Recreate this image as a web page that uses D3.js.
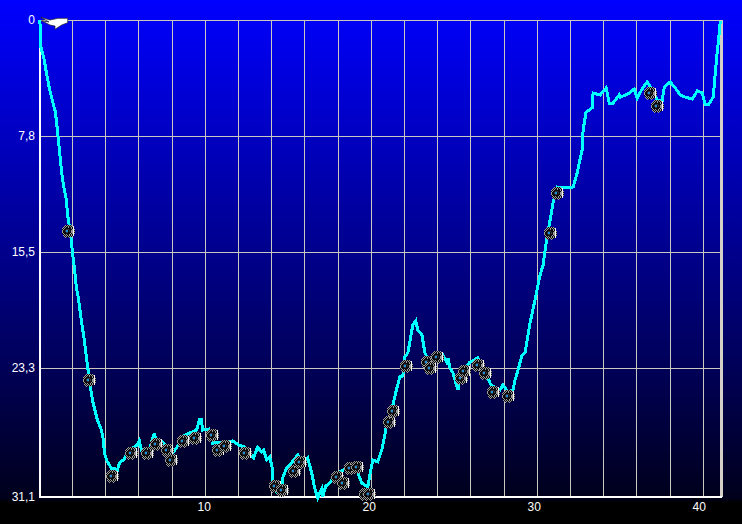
<!DOCTYPE html>
<html>
<head>
<meta charset="utf-8">
<style>
  html, body { margin: 0; padding: 0; background: #000; overflow: hidden; }
  svg { display: block; }
  text { font-family: "Liberation Sans", sans-serif; font-size: 12px; fill: #fff; }
</style>
<script src="https://cdn.jsdelivr.net/npm/d3@7"></script>
</head>
<body>
<svg id="svg" width="742" height="524"></svg>
<script>
// dive profile: time and depth
const times = [
  0.04, 0.06, 0.30, 0.42, 0.60, 0.78, 0.97, 1.09, 1.21, 1.33, 1.45, 1.63, 1.69, 1.93, 1.99, 2.11, 2.23, 2.35, 2.53, 2.71,
  2.90, 3.02, 3.20, 3.50, 3.74, 3.86, 3.92, 4.10, 4.34, 4.52, 4.71, 4.83, 5.13, 5.31, 5.61, 5.91, 6.03, 6.15, 6.64, 6.76,
  6.94, 7.00, 7.42, 8.02, 8.27, 8.57, 8.93, 9.47, 9.65, 9.77, 9.83, 10.20, 10.44, 11.46, 11.64, 12.01, 12.37, 12.67, 12.91, 13.15,
  13.39, 13.51, 13.70, 13.88, 14.06, 14.06, 14.30, 14.60, 14.66, 14.90, 15.08, 15.57, 15.87, 16.17, 16.41, 16.59, 16.77, 17.01, 17.07, 17.25,
  17.50, 17.92, 18.70, 19.19, 19.43, 19.79, 19.91, 20.09, 20.39, 20.63, 20.87, 20.93, 21.30, 21.54, 21.72, 21.90, 22.02, 22.20, 22.32, 22.50,
  22.68, 22.80, 23.05, 23.23, 23.53, 24.31, 24.55, 24.62, 24.74, 24.92, 25.22, 25.34, 25.94, 26.42, 26.85, 27.21, 27.75, 27.93, 28.23, 28.54,
  28.66, 28.84, 29.08, 29.26, 29.56, 29.86, 30.17, 30.35, 30.53, 30.77, 30.95, 31.19, 31.67, 32.16, 32.40, 32.70, 32.76, 32.94, 33.30, 33.36,
  33.79, 33.91, 34.15, 34.33, 34.57, 34.93, 34.99, 35.47, 35.84, 36.02, 36.38, 36.62, 36.86, 37.22, 37.53, 37.65, 38.01, 38.31, 38.61, 38.91,
  39.33, 39.64, 39.94, 40.12, 40.30, 40.60, 40.72, 40.84, 40.96, 41.02
]
const depths = [
  0, 1.67, 2.68, 3.48, 4.55, 5.36, 6.16, 7.36, 8.70, 10.04, 11.05, 12.05, 12.92, 14.73, 15.53, 16.54, 17.88, 18.61, 20.09, 21.42,
  23.10, 24.03, 25.24, 26.44, 27.05, 27.65, 28.44, 28.98, 29.35, 29.35, 29.47, 29.04, 28.80, 28.44, 28.14, 27.96, 27.71, 28.26, 28.26, 27.77,
  27.23, 27.59, 27.77, 28.44, 28.14, 27.47, 27.29, 27.05, 26.44, 26.44, 27.05, 26.99, 27.84, 27.77, 27.71, 27.96, 28.08, 28.44, 28.74, 28.08,
  28.38, 28.26, 28.86, 28.68, 29.47, 30.25, 30.80, 30.68, 29.95, 29.35, 29.17, 28.56, 28.98, 28.74, 29.65, 30.56, 31.16, 30.62, 31.10, 30.44,
  30.25, 29.65, 29.29, 29.65, 30.25, 30.50, 29.77, 28.86, 28.98, 28.26, 27.05, 26.57, 25.54, 24.51, 23.84, 23.78, 22.56, 22.29, 21.56, 20.42,
  20.15, 20.75, 21.09, 22.29, 22.90, 22.43, 22.90, 22.63, 23.30, 23.60, 24.63, 23.72, 22.90, 22.63, 23.54, 24.33, 24.63, 24.33, 24.75, 24.63,
  24.03, 23.42, 22.43, 22.29, 20.29, 18.75, 17.07, 16.40, 14.93, 13.39, 12.25, 11.18, 11.25, 11.18, 10.24, 8.70, 7.36, 6.16, 5.89, 4.89,
  5.02, 4.82, 4.55, 5.56, 5.56, 5.02, 5.16, 4.95, 4.62, 5.22, 4.49, 4.15, 4.55, 5.36, 5.36, 4.49, 4.15, 4.55, 5.02, 5.16,
  5.29, 4.75, 4.89, 5.69, 5.69, 5.16, 3.55, 2.14, 0.87, 0.07
]

// photo markers along the dive
const photoTimes = [
  1.75, 3.02, 4.40, 5.55, 6.46, 7.06, 7.72, 7.96, 8.63, 9.35, 10.38, 10.74, 11.16, 12.37, 14.18, 14.60, 15.32, 15.69, 17.92, 18.28,
  18.70, 19.12, 19.61, 19.85, 21.06, 21.30, 22.08, 23.35, 23.53, 23.95, 25.40, 25.58, 26.42, 26.85, 27.33, 28.23, 30.77, 31.19, 36.80, 37.22
]
const photoDepths = [
  14.13, 24.03, 29.83, 28.44, 28.44, 27.90, 28.26, 28.86, 27.71, 27.53, 27.35, 28.26, 28.02, 28.44, 30.44, 30.68, 29.53, 28.98, 29.89, 30.25,
  29.35, 29.29, 30.92, 30.92, 26.57, 25.90, 23.17, 22.90, 23.30, 22.56, 23.90, 23.48, 23.10, 23.60, 24.75, 24.99, 14.26, 11.58, 4.89, 5.76
]

const gridTimes = d3.range(2, 41, 2)
const xLabels = [10, 20, 30, 40]
const yTicks = [0, 7.8, 15.5, 23.3, 31.1]
const yLabels = ['0', '7,8', '15,5', '23,3', '31,1']

// camera bitmap, one char per pixel
const cameraRows = [
  '...gkgkgkg...',
  '..gkgkgkgkgw.',
  '.gkgkkgkkgkw.',
  'gkgkkkkkkgkw.',
  'kgkkdddkkkgwg',
  'gkkdbbkdkggwk',
  'gkkdbbkdkggwg',
  'gkkkddkkkggwk',
  'kgkkkkkkgkgwg',
  '.kgkgkkgkgkw.',
  '.gkgkgkgkgkw.',
  '..gkgkgkgk...',
  '...g.k.g.....'
]
const cameraColors = { k: '#0a0a0a', d: '#303848', g: '#9a9a9a', w: '#f4f4f4', b: '#1e90d8' }

const width = 742
const height = 524
const left = 40
const right = 721
const top_ = 20
const bottom = 497

const svg = d3.select('#svg')
const defs = svg.append('defs')

const xScale = d3.scaleLinear().domain([0, 40]).range([39.3, 703.3])
// last band of the depth axis is stretched in the original
const yScale = d3.scaleLinear().domain([0, 23.3, 31.1]).range([top_, 368, bottom])

const grad = defs.append('linearGradient')
  .attr('id', 'bg')
  .attr('x1', 0).attr('y1', 0).attr('x2', 0).attr('y2', 1)
grad.append('stop').attr('offset', 0).attr('stop-color', '#0000ff')
grad.append('stop').attr('offset', 0.95).attr('stop-color', '#00001c')
grad.append('stop').attr('offset', 0.96).attr('stop-color', '#000000')

svg.append('rect')
  .attr('width', width)
  .attr('height', height)
  .attr('fill', 'url(#bg)')

const gridColor = '#c8c8c0'
const grid = svg.append('g').attr('shape-rendering', 'crispEdges')

grid.selectAll('.vline')
  .data(gridTimes)
  .join('line')
  .attr('x1', d => Math.floor(xScale(d)) + 0.5)
  .attr('x2', d => Math.floor(xScale(d)) + 0.5)
  .attr('y1', top_)
  .attr('y2', bottom)
  .attr('stroke', gridColor)

grid.selectAll('.hline')
  .data(yTicks.slice(0, 4))
  .join('line')
  .attr('x1', left)
  .attr('x2', right)
  .attr('y1', d => Math.round(yScale(d)) + 0.5)
  .attr('y2', d => Math.round(yScale(d)) + 0.5)
  .attr('stroke', gridColor)

// right border is dotted light grey
grid.append('line')
  .attr('x1', right).attr('x2', right)
  .attr('y1', top_).attr('y2', bottom)
  .attr('stroke', '#d4d0c8')
  .attr('stroke-width', 3)

grid.append('line')
  .attr('x1', left).attr('x2', left)
  .attr('y1', top_).attr('y2', bottom + 1)
  .attr('stroke', '#fff')
  .attr('stroke-width', 2)

grid.append('line')
  .attr('x1', left - 1).attr('x2', right + 1)
  .attr('y1', bottom).attr('y2', bottom)
  .attr('stroke', '#fff')
  .attr('stroke-width', 2)

svg.append('g')
  .selectAll('text')
  .data(yTicks)
  .join('text')
  .attr('x', 35)
  .attr('y', d => yScale(d) + 4)
  .attr('text-anchor', 'end')
  .text((d, i) => yLabels[i])

svg.append('g')
  .selectAll('text')
  .data(xLabels)
  .join('text')
  .attr('x', d => xScale(d) - d * 0.1)
  .attr('y', 511)
  .attr('text-anchor', 'middle')
  .text(d => d)

const lineGen = d3.line()
  .x(d => xScale(times[d]))
  .y(d => yScale(depths[d]))

svg.append('path')
  .attr('d', lineGen(d3.range(times.length)))
  .attr('fill', 'none')
  .attr('stroke', '#00ffff')
  .attr('stroke-width', 3)
  .attr('shape-rendering', 'crispEdges')

const cameraPixels = cameraRows.flatMap((row, y) =>
  row.split('').map((c, x) => ({ c, x, y })).filter(d => d.c !== '.'))

const camera = defs.append('g').attr('id', 'camera').attr('shape-rendering', 'crispEdges')
camera.selectAll('rect')
  .data(cameraPixels)
  .join('rect')
  .attr('x', d => d.x - 6)
  .attr('y', d => d.y - 6)
  .attr('width', 1)
  .attr('height', 1)
  .attr('fill', d => cameraColors[d.c])

svg.append('g')
  .selectAll('use')
  .data(d3.range(photoTimes.length))
  .join('use')
  .attr('href', '#camera')
  .attr('x', d => Math.round(xScale(photoTimes[d])))
  .attr('y', d => Math.round(yScale(photoDepths[d])))

// diver at the start of the profile
svg.append('path')
  .attr('transform', `translate(${left}, 17)`)
  .attr('d', 'M0.7,0.3 L10,3 L18,1.3 L27.7,1.3 L27.7,5.7 L21.7,8 L15,12.3 L15,9 L10,8 L1.7,3.7 L9,5 Z')
  .attr('fill', '#fff')
  .attr('stroke', '#222')
  .attr('stroke-width', 0.7)
</script>
</body>
</html>
